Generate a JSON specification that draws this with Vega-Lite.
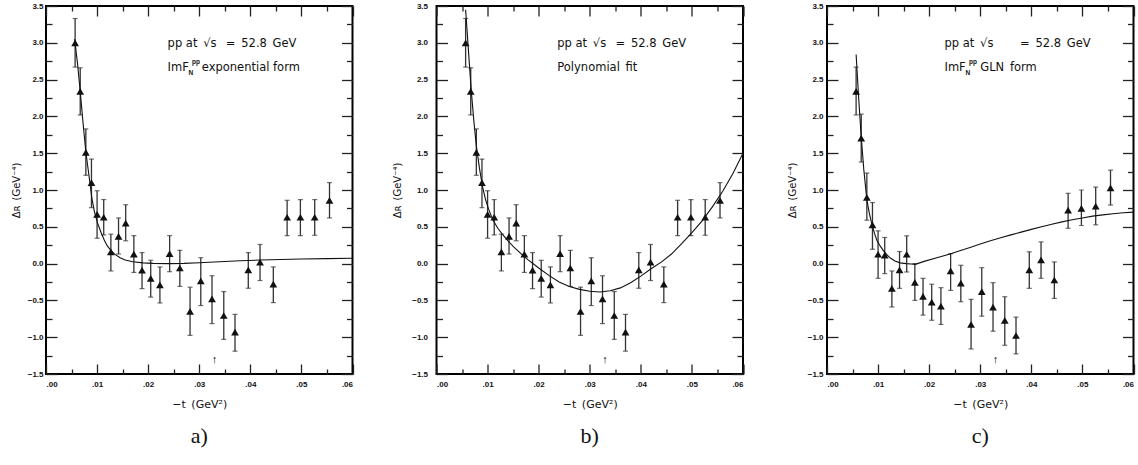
{
  "$schema": "https://vega.github.io/schema/vega-lite/v6.json",
  "background": "white",
  "padding": {"left": 10, "top": 1, "right": 0, "bottom": 0},
  "bounds": "flush",
  "spacing": 83.5,
  "config": {
    "view": {"stroke": "black", "strokeWidth": 2},
    "axis": {
      "grid": false, "domain": false, "tickColor": "#222", "tickWidth": 1.3,
      "labelFont": "Liberation Sans", "labelFontSize": 8, "labelFontWeight": "bold", "labelColor": "#111",
      "titleFont": "DejaVu Sans", "titleFontWeight": "normal", "titleColor": "#111"
    },
    "title": {"font": "Liberation Serif", "fontSize": 22, "fontWeight": "normal", "color": "#111"}
  },
  "datasets": {
    "ptsAB": [
      {"t": 0.0057, "v": 3.00, "lo": 2.67, "hi": 3.33},
      {"t": 0.0067, "v": 2.34, "lo": 2.02, "hi": 2.66},
      {"t": 0.0078, "v": 1.51, "lo": 1.20, "hi": 1.83},
      {"t": 0.0089, "v": 1.10, "lo": 0.76, "hi": 1.42},
      {"t": 0.0100, "v": 0.67, "lo": 0.345, "hi": 0.99},
      {"t": 0.0113, "v": 0.63, "lo": 0.39, "hi": 0.87},
      {"t": 0.0127, "v": 0.16, "lo": -0.10, "hi": 0.40},
      {"t": 0.0142, "v": 0.37, "lo": 0.13, "hi": 0.62},
      {"t": 0.0156, "v": 0.55, "lo": 0.31, "hi": 0.80},
      {"t": 0.0172, "v": 0.13, "lo": -0.12, "hi": 0.38},
      {"t": 0.0188, "v": -0.09, "lo": -0.34, "hi": 0.15},
      {"t": 0.0205, "v": -0.20, "lo": -0.455, "hi": 0.045},
      {"t": 0.0223, "v": -0.29, "lo": -0.535, "hi": -0.045},
      {"t": 0.0242, "v": 0.135, "lo": -0.11, "hi": 0.38},
      {"t": 0.0262, "v": -0.06, "lo": -0.31, "hi": 0.18},
      {"t": 0.0282, "v": -0.65, "lo": -0.975, "hi": -0.32},
      {"t": 0.0303, "v": -0.235, "lo": -0.57, "hi": 0.08},
      {"t": 0.0325, "v": -0.48, "lo": -0.815, "hi": -0.165},
      {"t": 0.0348, "v": -0.705, "lo": -1.03, "hi": -0.38},
      {"t": 0.0370, "v": -0.93, "lo": -1.19, "hi": -0.69},
      {"t": 0.0396, "v": -0.085, "lo": -0.335, "hi": 0.15},
      {"t": 0.0419, "v": 0.02, "lo": -0.23, "hi": 0.26},
      {"t": 0.0445, "v": -0.28, "lo": -0.53, "hi": -0.045},
      {"t": 0.0472, "v": 0.63, "lo": 0.38, "hi": 0.86},
      {"t": 0.0498, "v": 0.63, "lo": 0.38, "hi": 0.87},
      {"t": 0.0526, "v": 0.63, "lo": 0.385, "hi": 0.87},
      {"t": 0.0555, "v": 0.86, "lo": 0.62, "hi": 1.10}
    ],
    "ptsC": [
      {"t": 0.0057, "v": 2.34, "lo": 2.02, "hi": 2.67},
      {"t": 0.0067, "v": 1.705, "lo": 1.38, "hi": 2.03},
      {"t": 0.0078, "v": 0.90, "lo": 0.59, "hi": 1.23},
      {"t": 0.0089, "v": 0.527, "lo": 0.195, "hi": 0.83},
      {"t": 0.0100, "v": 0.127, "lo": -0.20, "hi": 0.445},
      {"t": 0.0113, "v": 0.114, "lo": -0.136, "hi": 0.355},
      {"t": 0.0127, "v": -0.336, "lo": -0.59, "hi": -0.10},
      {"t": 0.0142, "v": -0.086, "lo": -0.336, "hi": 0.164},
      {"t": 0.0156, "v": 0.127, "lo": -0.114, "hi": 0.377},
      {"t": 0.0172, "v": -0.255, "lo": -0.50, "hi": 0.0},
      {"t": 0.0188, "v": -0.445, "lo": -0.70, "hi": -0.20},
      {"t": 0.0205, "v": -0.523, "lo": -0.77, "hi": -0.28},
      {"t": 0.0223, "v": -0.577, "lo": -0.827, "hi": -0.327},
      {"t": 0.0242, "v": -0.10, "lo": -0.364, "hi": 0.136},
      {"t": 0.0262, "v": -0.264, "lo": -0.518, "hi": -0.023},
      {"t": 0.0282, "v": -0.827, "lo": -1.16, "hi": -0.486},
      {"t": 0.0303, "v": -0.382, "lo": -0.714, "hi": -0.055},
      {"t": 0.0325, "v": -0.59, "lo": -0.918, "hi": -0.259},
      {"t": 0.0348, "v": -0.77, "lo": -1.11, "hi": -0.45},
      {"t": 0.0370, "v": -0.977, "lo": -1.227, "hi": -0.727},
      {"t": 0.0396, "v": -0.086, "lo": -0.336, "hi": 0.16},
      {"t": 0.0419, "v": 0.05, "lo": -0.20, "hi": 0.295},
      {"t": 0.0445, "v": -0.223, "lo": -0.473, "hi": 0.023},
      {"t": 0.0472, "v": 0.727, "lo": 0.48, "hi": 0.955},
      {"t": 0.0498, "v": 0.75, "lo": 0.518, "hi": 1.0},
      {"t": 0.0526, "v": 0.78, "lo": 0.527, "hi": 1.04},
      {"t": 0.0555, "v": 1.03, "lo": 0.795, "hi": 1.27}
    ],
    "fitA": [
      {"t": 0.0056, "v": 3.05}, {"t": 0.0062, "v": 2.7}, {"t": 0.0067, "v": 2.34}, {"t": 0.0072, "v": 1.95},
      {"t": 0.0078, "v": 1.52}, {"t": 0.0084, "v": 1.2}, {"t": 0.0090, "v": 0.88}, {"t": 0.0095, "v": 0.7},
      {"t": 0.0101, "v": 0.55}, {"t": 0.0108, "v": 0.42}, {"t": 0.0114, "v": 0.32}, {"t": 0.0120, "v": 0.24},
      {"t": 0.0127, "v": 0.18}, {"t": 0.0135, "v": 0.125}, {"t": 0.0145, "v": 0.08}, {"t": 0.0155, "v": 0.05},
      {"t": 0.017, "v": 0.025}, {"t": 0.019, "v": 0.01}, {"t": 0.021, "v": 0.003}, {"t": 0.024, "v": 0.0},
      {"t": 0.027, "v": 0.003}, {"t": 0.030, "v": 0.012}, {"t": 0.034, "v": 0.025}, {"t": 0.038, "v": 0.038},
      {"t": 0.042, "v": 0.048}, {"t": 0.046, "v": 0.056}, {"t": 0.050, "v": 0.062}, {"t": 0.055, "v": 0.068},
      {"t": 0.060, "v": 0.073}
    ],
    "fitB": [
      {"t": 0.0057, "v": 3.45}, {"t": 0.0063, "v": 2.85}, {"t": 0.0068, "v": 2.35}, {"t": 0.0073, "v": 1.95},
      {"t": 0.0078, "v": 1.6}, {"t": 0.0084, "v": 1.3}, {"t": 0.0090, "v": 1.05}, {"t": 0.0096, "v": 0.87},
      {"t": 0.0102, "v": 0.74}, {"t": 0.011, "v": 0.6}, {"t": 0.012, "v": 0.48}, {"t": 0.013, "v": 0.39},
      {"t": 0.014, "v": 0.31}, {"t": 0.015, "v": 0.235}, {"t": 0.016, "v": 0.17}, {"t": 0.017, "v": 0.105},
      {"t": 0.018, "v": 0.048}, {"t": 0.019, "v": -0.005}, {"t": 0.020, "v": -0.06}, {"t": 0.022, "v": -0.16},
      {"t": 0.024, "v": -0.25}, {"t": 0.026, "v": -0.31}, {"t": 0.028, "v": -0.35}, {"t": 0.030, "v": -0.375},
      {"t": 0.032, "v": -0.385}, {"t": 0.034, "v": -0.37}, {"t": 0.036, "v": -0.33}, {"t": 0.038, "v": -0.26},
      {"t": 0.040, "v": -0.17}, {"t": 0.042, "v": -0.07}, {"t": 0.044, "v": 0.02}, {"t": 0.046, "v": 0.13},
      {"t": 0.048, "v": 0.27}, {"t": 0.050, "v": 0.42}, {"t": 0.052, "v": 0.58}, {"t": 0.054, "v": 0.77},
      {"t": 0.056, "v": 0.98}, {"t": 0.058, "v": 1.22}, {"t": 0.060, "v": 1.5}
    ],
    "fitC": [
      {"t": 0.0057, "v": 2.84}, {"t": 0.0062, "v": 2.25}, {"t": 0.0067, "v": 1.72}, {"t": 0.0072, "v": 1.28},
      {"t": 0.0078, "v": 0.87}, {"t": 0.0083, "v": 0.68}, {"t": 0.0088, "v": 0.53}, {"t": 0.0093, "v": 0.41},
      {"t": 0.0098, "v": 0.31}, {"t": 0.0105, "v": 0.23}, {"t": 0.0111, "v": 0.17}, {"t": 0.0118, "v": 0.115},
      {"t": 0.0124, "v": 0.075}, {"t": 0.0133, "v": 0.035}, {"t": 0.0143, "v": 0.01}, {"t": 0.0155, "v": 0.0},
      {"t": 0.0165, "v": -0.005}, {"t": 0.0173, "v": -0.01}, {"t": 0.019, "v": 0.03}, {"t": 0.0215, "v": 0.08},
      {"t": 0.0241, "v": 0.13}, {"t": 0.026, "v": 0.175}, {"t": 0.028, "v": 0.22}, {"t": 0.030, "v": 0.265},
      {"t": 0.032, "v": 0.31}, {"t": 0.034, "v": 0.35}, {"t": 0.036, "v": 0.39}, {"t": 0.038, "v": 0.428},
      {"t": 0.040, "v": 0.465}, {"t": 0.042, "v": 0.5}, {"t": 0.044, "v": 0.535}, {"t": 0.046, "v": 0.567},
      {"t": 0.048, "v": 0.595}, {"t": 0.050, "v": 0.62}, {"t": 0.052, "v": 0.645}, {"t": 0.054, "v": 0.662},
      {"t": 0.056, "v": 0.678}, {"t": 0.058, "v": 0.69}, {"t": 0.060, "v": 0.70}
    ],
    "mainA": [
      {"t": 0.0238, "v": 2.98, "s": "pp at\u2002√s\u2002 =\u200252.8\u2002GeV"},
      {"t": 0.0238, "v": 2.66, "s": "ImF"},
      {"t": 0.0305, "v": 2.66, "s": "exponential form"}
    ],
    "subA": [{"t": 0.0279, "v": 2.585, "s": "N"}, {"t": 0.0286, "v": 2.735, "s": "pp"}],
    "mainB": [
      {"t": 0.02365, "v": 2.98, "s": "pp at\u2002√s\u2002 =\u200252.8\u2002GeV"},
      {"t": 0.02365, "v": 2.66, "s": "Polynomial\u2002fit"}
    ],
    "mainC": [
      {"t": 0.0230, "v": 2.98, "s": "pp at\u2002√s\u2003\u2003 =\u200252.8\u2002GeV"},
      {"t": 0.0230, "v": 2.66, "s": "ImF"},
      {"t": 0.0300, "v": 2.66, "s": "GLN\u2002form"}
    ],
    "subC": [{"t": 0.0271, "v": 2.585, "s": "N"}, {"t": 0.0278, "v": 2.735, "s": "pp"}],
    "arrow": [{"t": 0.0330, "v": -1.31, "s": "↑"}]
  },
  "hconcat": [
    {
      "width": 306.5, "height": 368,
      "title": {"text": "a)", "orient": "bottom", "offset": 17},
      "resolve": {"axis": {"x": "independent", "y": "independent"}},
      "layer": [
        {"mark": {"type": "rule", "strokeDash": [9, 6], "color": "#555", "strokeWidth": 1.3},
         "encoding": {"y": {"datum": 0, "type": "quantitative", "scale": {"domain": [-1.5, 3.5], "nice": false, "zero": false}, "axis": null}}},
        {"data": {"name": "ptsAB"},
         "mark": {"type": "rule", "color": "#333", "strokeWidth": 1.3},
         "encoding": {
           "x": {"field": "t", "type": "quantitative", "scale": {"domain": [0, 0.06], "nice": false, "zero": false},
                 "axis": {"orient": "bottom", "values": [0.005, 0.015, 0.025, 0.035, 0.045, 0.055], "tickSize": 5, "offset": -5, "labels": false, "title": null}},
           "y": {"field": "lo", "type": "quantitative", "axis": {"orient": "left", "values": [-1.25, -0.75, -0.25, 0.25, 0.75, 1.25, 1.75, 2.25, 2.75, 3.25], "tickSize": 6, "offset": -6, "labels": false, "title": null}},
           "y2": {"field": "hi"}}},
        {"data": {"name": "ptsAB"},
         "mark": {"type": "tick", "color": "#333", "size": 5, "thickness": 1.2, "orient": "horizontal"},
         "encoding": {"x": {"field": "t", "type": "quantitative", "axis": {"orient": "bottom", "values": [0, 0.01, 0.02, 0.03, 0.04, 0.05, 0.06], "tickSize": 10, "offset": -10, "labels": false, "title": null}},
                      "y": {"field": "lo", "type": "quantitative", "axis": {"orient": "left", "values": [-1.5, -1, -0.5, 0, 0.5, 1, 1.5, 2, 2.5, 3, 3.5], "tickSize": 11, "offset": -11, "labels": false, "title": null}}}},
        {"data": {"name": "ptsAB"},
         "mark": {"type": "tick", "color": "#333", "size": 5, "thickness": 1.2, "orient": "horizontal"},
         "encoding": {"x": {"field": "t", "type": "quantitative", "axis": {"orient": "top", "values": [0.005, 0.015, 0.025, 0.035, 0.045, 0.055], "tickSize": 5, "offset": -5, "labels": false, "title": null}},
                      "y": {"field": "hi", "type": "quantitative", "axis": {"orient": "right", "values": [-1.25, -0.75, -0.25, 0.25, 0.75, 1.25, 1.75, 2.25, 2.75, 3.25], "tickSize": 6, "offset": -6, "labels": false, "title": null}}}},
        {"data": {"name": "fitA"},
         "mark": {"type": "line", "color": "#111", "strokeWidth": 1.1},
         "encoding": {
           "x": {"field": "t", "type": "quantitative", "axis": {"orient": "top", "values": [0, 0.01, 0.02, 0.03, 0.04, 0.05, 0.06], "tickSize": 10, "offset": -10, "labels": false, "title": null}},
           "y": {"field": "v", "type": "quantitative", "axis": {"orient": "right", "values": [-1.5, -1, -0.5, 0, 0.5, 1, 1.5, 2, 2.5, 3, 3.5], "tickSize": 11, "offset": -11, "labels": false, "title": null}}}},
        {"data": {"name": "ptsAB"},
         "mark": {"type": "point", "shape": "triangle-up", "filled": true, "color": "#111", "size": 60, "opacity": 1},
         "encoding": {
           "x": {"field": "t", "type": "quantitative", "axis": {"orient": "bottom", "values": [0, 0.01, 0.02, 0.03, 0.04, 0.05, 0.06], "ticks": false, "labelPadding": 6, "labelExpr": "replace(format(datum.value, '.2f'), '0.', '.')", "title": "−t\u2002(GeV²)", "titleFontSize": 11, "titlePadding": 10}},
           "y": {"field": "v", "type": "quantitative", "axis": {"orient": "left", "values": [-1.5, -1, -0.5, 0, 0.5, 1, 1.5, 2, 2.5, 3, 3.5], "ticks": false, "labelPadding": 3, "labelExpr": "format(datum.value, '.1f')", "title": "Δʀ\u2002(GeV⁻⁴)", "titleFontSize": 10, "titlePadding": 6}}}},
        {"data": {"name": "mainA"},
         "mark": {"type": "text", "align": "left", "baseline": "middle", "font": "DejaVu Sans", "fontSize": 11.5, "color": "#111"},
         "encoding": {"x": {"field": "t", "type": "quantitative", "axis": null}, "y": {"field": "v", "type": "quantitative", "axis": null}, "text": {"field": "s"}}},
        {"data": {"name": "subA"},
         "mark": {"type": "text", "align": "left", "baseline": "middle", "font": "Liberation Sans", "fontSize": 6.5, "fontWeight": "bold", "color": "#111"},
         "encoding": {"x": {"field": "t", "type": "quantitative", "axis": null}, "y": {"field": "v", "type": "quantitative", "axis": null}, "text": {"field": "s"}}},
        {"data": {"name": "arrow"},
         "mark": {"type": "text", "align": "center", "baseline": "middle", "font": "Liberation Sans", "fontSize": 11, "color": "black"},
         "encoding": {"x": {"field": "t", "type": "quantitative", "axis": null}, "y": {"field": "v", "type": "quantitative", "axis": null}, "text": {"field": "s"}}}
      ]
    },
    {
      "width": 306.5, "height": 368,
      "title": {"text": "b)", "orient": "bottom", "offset": 17},
      "resolve": {"axis": {"x": "independent", "y": "independent"}},
      "layer": [
        {"mark": {"type": "rule", "strokeDash": [9, 6], "color": "#555", "strokeWidth": 1.3},
         "encoding": {"y": {"datum": 0, "type": "quantitative", "scale": {"domain": [-1.5, 3.5], "nice": false, "zero": false}, "axis": null}}},
        {"data": {"name": "ptsAB"},
         "mark": {"type": "rule", "color": "#333", "strokeWidth": 1.3},
         "encoding": {
           "x": {"field": "t", "type": "quantitative", "scale": {"domain": [0, 0.06], "nice": false, "zero": false},
                 "axis": {"orient": "bottom", "values": [0.005, 0.015, 0.025, 0.035, 0.045, 0.055], "tickSize": 5, "offset": -5, "labels": false, "title": null}},
           "y": {"field": "lo", "type": "quantitative", "axis": {"orient": "left", "values": [-1.25, -0.75, -0.25, 0.25, 0.75, 1.25, 1.75, 2.25, 2.75, 3.25], "tickSize": 6, "offset": -6, "labels": false, "title": null}},
           "y2": {"field": "hi"}}},
        {"data": {"name": "ptsAB"},
         "mark": {"type": "tick", "color": "#333", "size": 5, "thickness": 1.2, "orient": "horizontal"},
         "encoding": {"x": {"field": "t", "type": "quantitative", "axis": {"orient": "bottom", "values": [0, 0.01, 0.02, 0.03, 0.04, 0.05, 0.06], "tickSize": 10, "offset": -10, "labels": false, "title": null}},
                      "y": {"field": "lo", "type": "quantitative", "axis": {"orient": "left", "values": [-1.5, -1, -0.5, 0, 0.5, 1, 1.5, 2, 2.5, 3, 3.5], "tickSize": 11, "offset": -11, "labels": false, "title": null}}}},
        {"data": {"name": "ptsAB"},
         "mark": {"type": "tick", "color": "#333", "size": 5, "thickness": 1.2, "orient": "horizontal"},
         "encoding": {"x": {"field": "t", "type": "quantitative", "axis": {"orient": "top", "values": [0.005, 0.015, 0.025, 0.035, 0.045, 0.055], "tickSize": 5, "offset": -5, "labels": false, "title": null}},
                      "y": {"field": "hi", "type": "quantitative", "axis": {"orient": "right", "values": [-1.25, -0.75, -0.25, 0.25, 0.75, 1.25, 1.75, 2.25, 2.75, 3.25], "tickSize": 6, "offset": -6, "labels": false, "title": null}}}},
        {"data": {"name": "fitB"},
         "mark": {"type": "line", "color": "#111", "strokeWidth": 1.1},
         "encoding": {
           "x": {"field": "t", "type": "quantitative", "axis": {"orient": "top", "values": [0, 0.01, 0.02, 0.03, 0.04, 0.05, 0.06], "tickSize": 10, "offset": -10, "labels": false, "title": null}},
           "y": {"field": "v", "type": "quantitative", "axis": {"orient": "right", "values": [-1.5, -1, -0.5, 0, 0.5, 1, 1.5, 2, 2.5, 3, 3.5], "tickSize": 11, "offset": -11, "labels": false, "title": null}}}},
        {"data": {"name": "ptsAB"},
         "mark": {"type": "point", "shape": "triangle-up", "filled": true, "color": "#111", "size": 60, "opacity": 1},
         "encoding": {
           "x": {"field": "t", "type": "quantitative", "axis": {"orient": "bottom", "values": [0, 0.01, 0.02, 0.03, 0.04, 0.05, 0.06], "ticks": false, "labelPadding": 6, "labelExpr": "replace(format(datum.value, '.2f'), '0.', '.')", "title": "−t\u2002(GeV²)", "titleFontSize": 11, "titlePadding": 10}},
           "y": {"field": "v", "type": "quantitative", "axis": {"orient": "left", "values": [-1.5, -1, -0.5, 0, 0.5, 1, 1.5, 2, 2.5, 3, 3.5], "ticks": false, "labelPadding": 9, "labelExpr": "format(datum.value, '.1f')", "title": "Δʀ\u2002(GeV⁻⁴)", "titleFontSize": 10, "titlePadding": 9}}}},
        {"data": {"name": "mainB"},
         "mark": {"type": "text", "align": "left", "baseline": "middle", "font": "DejaVu Sans", "fontSize": 11.5, "color": "#111"},
         "encoding": {"x": {"field": "t", "type": "quantitative", "axis": null}, "y": {"field": "v", "type": "quantitative", "axis": null}, "text": {"field": "s"}}},
        {"data": {"name": "arrow"},
         "mark": {"type": "text", "align": "center", "baseline": "middle", "font": "Liberation Sans", "fontSize": 11, "color": "black"},
         "encoding": {"x": {"field": "t", "type": "quantitative", "axis": null}, "y": {"field": "v", "type": "quantitative", "axis": null}, "text": {"field": "s"}}}
      ]
    },
    {
      "width": 306.5, "height": 368,
      "title": {"text": "c)", "orient": "bottom", "offset": 17},
      "resolve": {"axis": {"x": "independent", "y": "independent"}},
      "layer": [
        {"mark": {"type": "rule", "strokeDash": [9, 6], "color": "#555", "strokeWidth": 1.3},
         "encoding": {"y": {"datum": 0, "type": "quantitative", "scale": {"domain": [-1.5, 3.5], "nice": false, "zero": false}, "axis": null}}},
        {"data": {"name": "ptsC"},
         "mark": {"type": "rule", "color": "#333", "strokeWidth": 1.3},
         "encoding": {
           "x": {"field": "t", "type": "quantitative", "scale": {"domain": [0, 0.06], "nice": false, "zero": false},
                 "axis": {"orient": "bottom", "values": [0.005, 0.015, 0.025, 0.035, 0.045, 0.055], "tickSize": 5, "offset": -5, "labels": false, "title": null}},
           "y": {"field": "lo", "type": "quantitative", "axis": {"orient": "left", "values": [-1.25, -0.75, -0.25, 0.25, 0.75, 1.25, 1.75, 2.25, 2.75, 3.25], "tickSize": 6, "offset": -6, "labels": false, "title": null}},
           "y2": {"field": "hi"}}},
        {"data": {"name": "ptsC"},
         "mark": {"type": "tick", "color": "#333", "size": 5, "thickness": 1.2, "orient": "horizontal"},
         "encoding": {"x": {"field": "t", "type": "quantitative", "axis": {"orient": "bottom", "values": [0, 0.01, 0.02, 0.03, 0.04, 0.05, 0.06], "tickSize": 10, "offset": -10, "labels": false, "title": null}},
                      "y": {"field": "lo", "type": "quantitative", "axis": {"orient": "left", "values": [-1.5, -1, -0.5, 0, 0.5, 1, 1.5, 2, 2.5, 3, 3.5], "tickSize": 11, "offset": -11, "labels": false, "title": null}}}},
        {"data": {"name": "ptsC"},
         "mark": {"type": "tick", "color": "#333", "size": 5, "thickness": 1.2, "orient": "horizontal"},
         "encoding": {"x": {"field": "t", "type": "quantitative", "axis": {"orient": "top", "values": [0.005, 0.015, 0.025, 0.035, 0.045, 0.055], "tickSize": 5, "offset": -5, "labels": false, "title": null}},
                      "y": {"field": "hi", "type": "quantitative", "axis": {"orient": "right", "values": [-1.25, -0.75, -0.25, 0.25, 0.75, 1.25, 1.75, 2.25, 2.75, 3.25], "tickSize": 6, "offset": -6, "labels": false, "title": null}}}},
        {"data": {"name": "fitC"},
         "mark": {"type": "line", "color": "#111", "strokeWidth": 1.1},
         "encoding": {
           "x": {"field": "t", "type": "quantitative", "axis": {"orient": "top", "values": [0, 0.01, 0.02, 0.03, 0.04, 0.05, 0.06], "tickSize": 10, "offset": -10, "labels": false, "title": null}},
           "y": {"field": "v", "type": "quantitative", "axis": {"orient": "right", "values": [-1.5, -1, -0.5, 0, 0.5, 1, 1.5, 2, 2.5, 3, 3.5], "tickSize": 11, "offset": -11, "labels": false, "title": null}}}},
        {"data": {"name": "ptsC"},
         "mark": {"type": "point", "shape": "triangle-up", "filled": true, "color": "#111", "size": 60, "opacity": 1},
         "encoding": {
           "x": {"field": "t", "type": "quantitative", "axis": {"orient": "bottom", "values": [0, 0.01, 0.02, 0.03, 0.04, 0.05, 0.06], "ticks": false, "labelPadding": 6, "labelExpr": "replace(format(datum.value, '.2f'), '0.', '.')", "title": "−t\u2002(GeV²)", "titleFontSize": 11, "titlePadding": 10}},
           "y": {"field": "v", "type": "quantitative", "axis": {"orient": "left", "values": [-1.5, -1, -0.5, 0, 0.5, 1, 1.5, 2, 2.5, 3, 3.5], "ticks": false, "labelPadding": 4, "labelExpr": "format(datum.value, '.1f')", "title": "Δʀ\u2002(GeV⁻⁴)", "titleFontSize": 10, "titlePadding": 10}}}},
        {"data": {"name": "mainC"},
         "mark": {"type": "text", "align": "left", "baseline": "middle", "font": "DejaVu Sans", "fontSize": 11.5, "color": "#111"},
         "encoding": {"x": {"field": "t", "type": "quantitative", "axis": null}, "y": {"field": "v", "type": "quantitative", "axis": null}, "text": {"field": "s"}}},
        {"data": {"name": "subC"},
         "mark": {"type": "text", "align": "left", "baseline": "middle", "font": "Liberation Sans", "fontSize": 6.5, "fontWeight": "bold", "color": "#111"},
         "encoding": {"x": {"field": "t", "type": "quantitative", "axis": null}, "y": {"field": "v", "type": "quantitative", "axis": null}, "text": {"field": "s"}}},
        {"data": {"name": "arrow"},
         "mark": {"type": "text", "align": "center", "baseline": "middle", "font": "Liberation Sans", "fontSize": 11, "color": "black"},
         "encoding": {"x": {"field": "t", "type": "quantitative", "axis": null}, "y": {"field": "v", "type": "quantitative", "axis": null}, "text": {"field": "s"}}}
      ]
    }
  ]
}
